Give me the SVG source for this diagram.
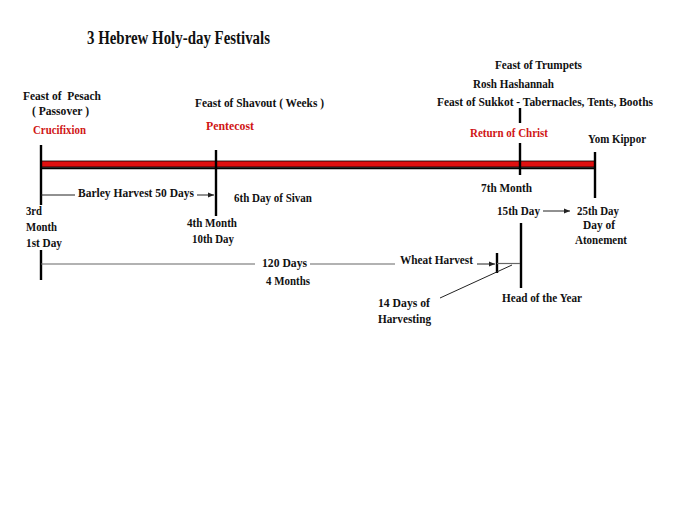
<svg xmlns="http://www.w3.org/2000/svg" width="686" height="521" viewBox="0 0 686 521">
<style>
text{font-family:"Liberation Serif","Times New Roman",serif;font-weight:bold;font-size:13px;fill:#111;white-space:pre}
.red{fill:#d01515}
.title{font-size:18px}
.v{stroke:#000;stroke-width:2.4;fill:none}
.thin{stroke:#222;stroke-width:1;fill:none}
.gray{stroke:#666;stroke-width:1.2;fill:none}
</style>
<defs>
<marker id="ah" viewBox="0 0 10 10" refX="10" refY="5" markerWidth="6" markerHeight="6" orient="auto" markerUnits="userSpaceOnUse">
<path d="M0,1 L10,5 L0,9 Z" fill="#222"/>
</marker>
</defs>
<rect width="686" height="521" fill="#fff"/>
<g id="title"><text class="title" x="87" y="44" textLength="183" lengthAdjust="spacingAndGlyphs">3 Hebrew Holy-day Festivals</text></g>

<g id="timeline">
<rect x="41" y="161" width="554" height="6" fill="#e01010" stroke="#000" stroke-width="0.8"/>
<line x1="41" y1="168.2" x2="595" y2="168.2" stroke="#000" stroke-width="2"/>
</g>

<g id="connectors">
<line class="v" x1="41" y1="145" x2="41" y2="205"/>
<line class="v" x1="41" y1="250" x2="41" y2="280"/>
<line class="v" x1="216" y1="150" x2="216" y2="216"/>
<line class="v" x1="520" y1="108" x2="520" y2="123"/>
<line class="v" x1="520" y1="143" x2="520" y2="175"/>
<line class="v" x1="595" y1="152" x2="595" y2="198"/>
<line class="v" x1="521" y1="223" x2="521" y2="288"/>
<line class="v" x1="497" y1="253" x2="497" y2="273"/>
<line class="thin" x1="41" y1="195" x2="75" y2="195"/>
<line class="thin" x1="197" y1="195" x2="214" y2="195" marker-end="url(#ah)"/>
<line class="gray" x1="41" y1="264" x2="255" y2="264"/>
<line class="gray" x1="310" y1="264" x2="395" y2="264"/>
<line class="thin" x1="477" y1="264" x2="495" y2="264" marker-end="url(#ah)"/>
<line class="gray" x1="497" y1="263.5" x2="520" y2="263.5"/>
<line class="thin" x1="440" y1="298" x2="512" y2="265"/>
<line class="thin" x1="543" y1="211" x2="570" y2="211" marker-end="url(#ah)"/>
</g>

<g id="pesach">
<text x="23" y="100" textLength="78" lengthAdjust="spacingAndGlyphs">Feast of  Pesach</text>
<text x="32" y="115" textLength="57" lengthAdjust="spacingAndGlyphs">( Passover )</text>
<text class="red" x="33" y="134" textLength="53" lengthAdjust="spacingAndGlyphs">Crucifixion</text>
<text x="26" y="215" textLength="16" lengthAdjust="spacingAndGlyphs">3rd</text>
<text x="26" y="231" textLength="31" lengthAdjust="spacingAndGlyphs">Month</text>
<text x="26" y="247" textLength="36" lengthAdjust="spacingAndGlyphs">1st Day</text>
</g>

<g id="barley"><text x="78" y="197" textLength="116" lengthAdjust="spacingAndGlyphs">Barley Harvest 50 Days</text></g>

<g id="shavout">
<text x="195" y="107" textLength="129" lengthAdjust="spacingAndGlyphs">Feast of Shavout ( Weeks )</text>
<text class="red" x="206" y="130" textLength="48" lengthAdjust="spacingAndGlyphs">Pentecost</text>
<text x="187" y="227" textLength="50" lengthAdjust="spacingAndGlyphs">4th Month</text>
<text x="192" y="243" textLength="42" lengthAdjust="spacingAndGlyphs">10th Day</text>
<text x="234" y="202" textLength="78" lengthAdjust="spacingAndGlyphs">6th Day of Sivan</text>
</g>

<g id="days120">
<text x="262" y="267" textLength="45" lengthAdjust="spacingAndGlyphs">120 Days</text>
<text x="266" y="285" textLength="44" lengthAdjust="spacingAndGlyphs">4 Months</text>
</g>

<g id="wheat">
<text x="400" y="264" textLength="73" lengthAdjust="spacingAndGlyphs">Wheat Harvest</text>
<text x="378" y="307" textLength="52" lengthAdjust="spacingAndGlyphs">14 Days of</text>
<text x="378" y="323" textLength="53" lengthAdjust="spacingAndGlyphs">Harvesting</text>
</g>

<g id="trumpets">
<text x="495" y="69" textLength="87" lengthAdjust="spacingAndGlyphs">Feast of Trumpets</text>
<text x="473" y="88" textLength="81" lengthAdjust="spacingAndGlyphs">Rosh Hashannah</text>
<text x="437" y="106" textLength="216" lengthAdjust="spacingAndGlyphs">Feast of Sukkot - Tabernacles, Tents, Booths</text>
<text class="red" x="470" y="137" textLength="78" lengthAdjust="spacingAndGlyphs">Return of Christ</text>
<text x="481" y="192" textLength="51" lengthAdjust="spacingAndGlyphs">7th Month</text>
<text x="497" y="215" textLength="43" lengthAdjust="spacingAndGlyphs">15th Day</text>
<text x="502" y="302" textLength="80" lengthAdjust="spacingAndGlyphs">Head of the Year</text>
</g>

<g id="yomkippor">
<text x="588" y="143" textLength="58" lengthAdjust="spacingAndGlyphs">Yom Kippor</text>
<text x="577" y="215" textLength="42" lengthAdjust="spacingAndGlyphs">25th Day</text>
<text x="583" y="229" textLength="32" lengthAdjust="spacingAndGlyphs">Day of</text>
<text x="575" y="244" textLength="52" lengthAdjust="spacingAndGlyphs">Atonement</text>
</g>
</svg>
